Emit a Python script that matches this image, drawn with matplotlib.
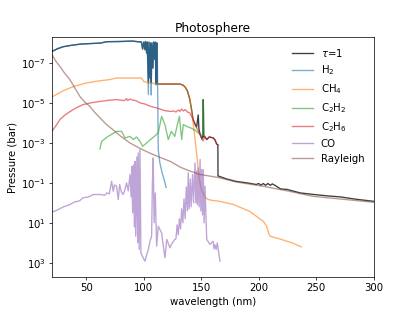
import numpy as np
import matplotlib
matplotlib.use('Agg')
import matplotlib.pyplot as plt
from matplotlib.ticker import NullLocator

plt.rcParams['font.size'] = 11.3

# values are log10(pressure / bar)
tau_wl = [20, 25, 30, 36, 45, 55, 62, 68, 80, 90, 98, 99, 100, 101, 101.5, 102.5, 103, 104, 104.5,
          105.4, 106, 106.5, 107, 108, 108.5, 109.5, 110, 110.6, 111, 111.6, 111.7, 131.5, 134, 136,
          138, 140, 141.5, 143, 144.5, 146, 147.4, 148, 149, 150.5, 151.5, 151.8, 152.2, 153.3, 154.8,
          157, 160.5, 162, 163.5, 164.5, 164.6, 172, 180, 190, 198, 200, 202, 204, 206, 208, 210, 212,
          215, 219, 225, 236, 248, 260, 271, 285, 300]
tau_lp = [-7.58, -7.72, -7.82, -7.88, -7.95, -7.98, -8.0, -8.07, -8.08, -8.1, -8.05, -7.7, -8.05, -7.67,
          -8.08, -7.5, -8.05, -6.0, -8.05, -6.25, -8.0, -6.0, -8.0, -6.75, -8.05, -7.2, -8.05, -5.95,
          -8.0, -8.0, -5.95, -5.95, -5.9, -5.8, -5.6, -5.2, -4.7, -4.15, -3.95, -3.8, -4.4, -3.7, -3.45,
          -3.2, -3.35, -5.17, -3.3, -3.3, -3.17, -3.3, -3.25, -3.15, -2.95, -2.9, -1.35, -1.2, -1.08,
          -1.0, -0.92, -0.97, -0.88, -0.97, -0.88, -0.97, -0.88, -0.95, -0.85, -0.7, -0.67, -0.5, -0.42,
          -0.35, -0.3, -0.18, -0.08]

h2_wl = [20, 25, 30, 36, 45, 55, 62, 68, 80, 90, 98, 99, 100, 101, 101.5, 102.5, 103, 104, 104.5, 105.4,
         106, 106.5, 107, 108, 108.5, 109.5, 110, 110.6, 111, 111.7, 112.2, 112.6, 114, 116, 118, 119.5]
h2_lp = [-7.58, -7.72, -7.82, -7.88, -7.95, -7.98, -8.0, -8.07, -8.08, -8.1, -8.05, -7.7, -8.05, -7.67,
         -8.08, -7.5, -8.05, -5.42, -8.05, -6.25, -8.0, -5.4, -8.0, -6.75, -8.05, -7.2, -8.05, -5.9,
         -8.0, -8.0, -5.0, -2.67, -2.0, -1.5, -1.1, -0.77]

ch4_wl = [20, 30, 40, 50, 60, 70, 76, 98, 100, 107, 111, 131.5, 134, 136, 138, 140, 141.5, 143, 145,
          146.5, 148, 150, 153, 156, 160, 166, 178, 192, 204, 207, 209, 210, 218, 229, 237]
ch4_lp = [-5.3, -5.62, -5.85, -6.0, -6.1, -6.17, -6.25, -6.25, -6.08, -6.0, -5.95, -5.95, -5.9, -5.8,
          -5.6, -5.2, -4.7, -4.0, -3.0, -2.2, -1.3, -0.7, -0.3, -0.17, -0.12, -0.08, 0.08, 0.42, 0.92,
          1.17, 1.58, 1.67, 1.8, 2.0, 2.2]

c2h2_wl = [61.8, 63.3, 69, 76.3, 80.7, 83.6, 88, 90.8, 93.8, 96.7, 99, 112.6, 115.5, 118.4, 121.3, 124,
           127, 128.6, 131, 133, 134.4, 137.3, 141, 145, 149, 151.5, 151.8, 152.2, 153.3]
c2h2_lp = [-2.7, -3.08, -3.33, -3.58, -3.58, -3.25, -3.33, -3.17, -3.3, -3.08, -2.83, -3.5, -4.33, -3.92,
           -3.17, -3.58, -3.33, -3.75, -4.33, -3.17, -3.92, -3.83, -3.75, -3.62, -3.42, -3.4, -5.17,
           -3.4, -3.33]

c2h6_wl = [20, 24, 27, 31, 36, 41, 47, 55, 62, 70, 76, 83, 85, 86, 88, 90, 93, 97, 101, 105, 110, 114,
           118, 123, 126, 128, 130, 131.5, 133, 134.5, 136, 138, 140, 143, 146, 149, 151.5, 153, 154.8,
           157, 160.5, 162, 163.5, 165]
c2h6_lp = [-3.58, -3.9, -4.17, -4.38, -4.58, -4.75, -4.92, -5.02, -5.08, -5.14, -5.17, -5.12, -5.22,
           -5.12, -5.2, -5.15, -5.12, -5.0, -4.95, -4.85, -4.77, -4.7, -4.62, -4.58, -4.6, -4.55, -4.65,
           -4.58, -4.7, -4.6, -4.67, -4.55, -4.5, -4.17, -3.75, -3.42, -3.1, -3.3, -3.17, -3.3, -3.25,
           -3.15, -2.92, -2.9]

co_wl = [20, 25, 30, 35, 40, 44, 47, 52, 56, 62, 66, 68, 70, 72, 73.4, 74.5, 76.3, 77.8, 79, 80.5, 82,
         83.6, 85, 86.5, 88, 89, 89.5, 90.3, 91, 91.8, 92.3, 93, 94, 94.7, 95.2, 96, 96.7, 97.5, 99, 101,
         102.5, 104, 105.5, 106.8, 107.5, 108.2, 109, 110, 111.2, 112.6, 114, 115.5, 118.4, 120, 122.8,
         124, 127, 128, 129, 130, 131, 132, 133, 134, 135, 136, 137, 138, 138.7, 139.5, 140.5, 141.2,
         142.5, 143.3, 144.6, 145.3, 146, 146.7, 147.4, 148.2, 149, 149.7, 150.4, 151.1, 151.8, 152.5,
         153.3, 154.8, 157.6, 160.5, 161, 162, 163, 164, 166.3]
co_lp = [0.47, 0.35, 0.2, 0.1, -0.05, -0.1, -0.25, -0.3, -0.42, -0.42, -0.38, -0.5, -0.45, -1.08, -0.58,
         -0.9, -0.83, -0.17, -0.92, -0.55, -0.42, -0.67, -1.0, -0.6, -1.42, -0.3, -1.83, 0.5, -1.9, 1.2,
         -2.08, 1.67, -2.3, 2.0, -2.5, 2.33, -2.67, 2.5, 2.7, 2.92, 2.6, 2.33, 1.9, 1.67, -1.0, -2.25,
         1.0, -0.5, 2.17, 1.17, 1.33, 1.5, 2.75, 1.83, 2.25, 2.08, 1.83, 1.8, 1.1, 1.6, 0.8, 1.3, 0.3,
         1.0, -0.2, 0.8, -0.8, 0.4, -1.5, 0.3, -1.2, 0.2, -1.42, 0.0, -2.0, 0.0, -1.6, 0.1, -1.75, 0.2,
         -2.17, 0.4, -1.67, 0.6, -1.67, 1.0, -0.83, 1.83, 2.08, 1.92, 2.3, 2.1, 2.33, 2.0, 2.92]

ray_wl = [20, 24, 27, 31, 35.7, 40, 44.4, 48, 53, 57, 62, 67, 73, 80, 88, 96, 105, 114, 123, 132, 140,
          149, 165, 180, 204, 225, 247, 270, 300]
ray_lp = [-7.42, -7.05, -6.83, -6.5, -6.17, -5.75, -5.33, -5.08, -4.83, -4.55, -4.25, -3.95, -3.67,
          -3.33, -3.0, -2.75, -2.5, -2.28, -2.08, -1.78, -1.6, -1.42, -1.27, -1.05, -0.83, -0.6, -0.33,
          -0.2, -0.03]


def p(lp):
    return 10 ** np.array(lp)


fig, ax = plt.subplots(figsize=(6.4, 4.8), dpi=64.85)

ax.plot(tau_wl, p(tau_lp), 'k', alpha=0.75, label=r'$\tau$=1')
ax.plot(h2_wl, p(h2_lp), color='tab:blue', alpha=0.6, label=r'H$_2$')
ax.plot(ch4_wl, p(ch4_lp), color='tab:orange', alpha=0.6, label=r'CH$_4$')
ax.plot(c2h2_wl, p(c2h2_lp), color='tab:green', alpha=0.6, label=r'C$_2$H$_2$')
ax.plot(c2h6_wl, p(c2h6_lp), color='tab:red', alpha=0.6, label=r'C$_2$H$_6$')
ax.plot(co_wl, p(co_lp), color='tab:purple', alpha=0.6, label='CO')
ax.plot(ray_wl, p(ray_lp), color='tab:brown', alpha=0.6, label='Rayleigh')

ax.set_yscale('log')
ax.set_xlim(20, 300)
ax.set_ylim(5e3, 5e-9)
ax.set_yticks([1e-7, 1e-5, 1e-3, 1e-1, 1e1, 1e3])
ax.yaxis.set_minor_locator(NullLocator())

ax.set_title('Photosphere')
ax.set_xlabel('wavelength (nm)')
ax.set_ylabel('Pressure (bar)')
ax.legend(loc='upper right', frameon=False)

plt.savefig('out.png', dpi=64.85)
